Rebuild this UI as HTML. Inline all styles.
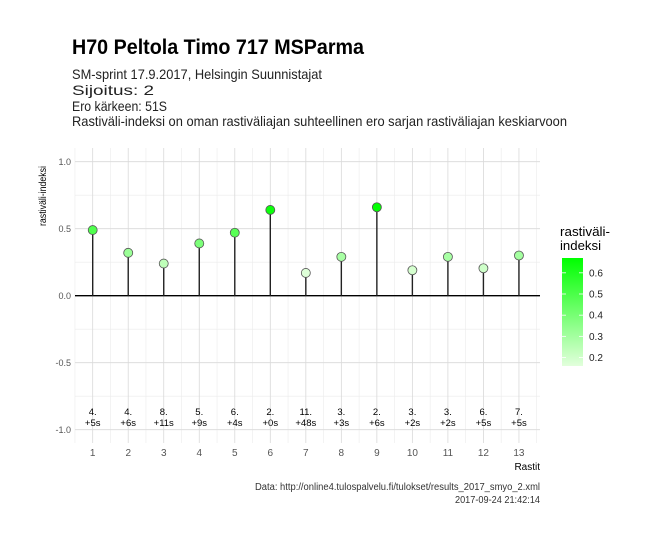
<!DOCTYPE html>
<html><head><meta charset="utf-8"><style>
body{margin:0;background:#fff;}
svg{display:block;font-family:"Liberation Sans Narrow","Liberation Sans",sans-serif;}
</style></head><body>
<svg id="chart" width="652" height="540" viewBox="0 0 652 540">
<rect width="652" height="540" fill="#fff"/>
<text x="72" y="54" font-size="21" font-weight="bold" fill="#000" textLength="292" lengthAdjust="spacingAndGlyphs">H70 Peltola Timo 717 MSParma</text>
<g font-size="14" fill="#222">
<text x="72" y="79" textLength="250" lengthAdjust="spacingAndGlyphs">SM-sprint 17.9.2017, Helsingin Suunnistajat</text>
<text x="72" y="95" textLength="82" lengthAdjust="spacingAndGlyphs">Sijoitus: 2</text>
<text x="72" y="111" textLength="95" lengthAdjust="spacingAndGlyphs">Ero kärkeen: 51S</text>
<text x="72" y="126" textLength="495" lengthAdjust="spacingAndGlyphs">Rastiväli-indeksi on oman rastiväliajan suhteellinen ero sarjan rastiväliajan keskiarvoon</text>
</g>
<g id="grid"></g>
<g id="marks"></g>
<g id="axes"></g>
<text x="46" y="196" font-size="10" fill="#000" transform="rotate(-90 46 196)" text-anchor="middle" textLength="60" lengthAdjust="spacingAndGlyphs">rastiväli-indeksi</text>
<text x="540" y="470" font-size="10" fill="#000" text-anchor="end">Rastit</text>
<g font-size="10" fill="#333">
<text x="255" y="490" textLength="285" lengthAdjust="spacingAndGlyphs">Data: http://online4.tulospalvelu.fi/tulokset/results_2017_smyo_2.xml</text>
<text x="455" y="503" textLength="85" lengthAdjust="spacingAndGlyphs">2017-09-24 21:42:14</text>
</g>
<defs><linearGradient id="lg" x1="0" y1="1" x2="0" y2="0">
<stop offset="0" stop-color="#e2ffdc"/><stop offset="1" stop-color="#00ff00"/></linearGradient></defs>
<g>
<text x="560" y="236" font-size="13" fill="#000" textLength="50" lengthAdjust="spacingAndGlyphs">rastiväli-</text>
<text x="560" y="250" font-size="13" fill="#000" textLength="41" lengthAdjust="spacingAndGlyphs">indeksi</text>
<rect x="562" y="258" width="21" height="108" fill="url(#lg)"/>
<g id="legticks"></g>
</g>
</svg>
<script>
const controls = [1,2,3,4,5,6,7,8,9,10,11,12,13];
const indexValues = [0.49,0.32,0.24,0.39,0.47,0.64,0.17,0.29,0.66,0.19,0.29,0.205,0.30];
const placeLabels = ["4.","4.","8.","5.","6.","2.","11.","3.","2.","3.","3.","6.","7."];
const diffLabels = ["+5s","+6s","+11s","+9s","+4s","+0s","+48s","+3s","+6s","+2s","+2s","+5s","+5s"];
const yTicks = [-1.0,-0.5,0.0,0.5,1.0];
const yTickLabels = ["-1.0","-0.5","0.0","0.5","1.0"];
const legendTicks = [0.2,0.3,0.4,0.5,0.6];

const NS="http://www.w3.org/2000/svg";
const L=75,R=540,T=148,B=443;
const x=v=>92.7+(v-1)*35.52;
const y=v=>295.7-v*134;
const lo=0.16,hi=0.67;
function el(t,a,p){const e=document.createElementNS(NS,t);for(const k in a)e.setAttribute(k,a[k]);p.appendChild(e);return e;}
function col(v){let t=Math.max(0,Math.min(1,(v-lo)/(hi-lo)));
 const c0=[226,255,220],c1=[0,255,0];
 return `rgb(${Math.round(c0[0]+(c1[0]-c0[0])*t)},255,${Math.round(c0[2]+(c1[2]-c0[2])*t)})`;}
const g=document.getElementById('grid'),m=document.getElementById('marks'),ax=document.getElementById('axes');
for(let i=0;i<yTicks.length-1;i++){const v=(yTicks[i]+yTicks[i+1])/2;
 const ln=el('line',{x1:L,x2:R,y1:y(v),y2:y(v),stroke:'#ebebeb','stroke-width':0.6},g);
 }
for(let i=0;i<controls.length+1;i++){const v=controls[0]-0.5+i;
 const ln=el('line',{x1:x(v),x2:x(v),y1:T,y2:B,stroke:'#ebebeb','stroke-width':0.6},g);
 }
yTicks.forEach((v,i)=>{
 const ln=el('line',{x1:L,x2:R,y1:y(v),y2:y(v),stroke:'#d9d9d9','stroke-width':0.8},g);
 
 const t=el('text',{x:L-4,y:y(v)+3.5,'font-size':9,fill:'#555','text-anchor':'end'},ax);t.textContent=yTickLabels[i];
 });
controls.forEach((c,i)=>{
 const ln=el('line',{x1:x(c),x2:x(c),y1:T,y2:B,stroke:'#d9d9d9','stroke-width':0.8},g);
 
 const t=el('text',{x:x(c),y:456,'font-size':10,fill:'#555','text-anchor':'middle'},ax);t.textContent=c;
 
 const p=el('text',{x:x(c),y:415,'font-size':9.5,fill:'#000','text-anchor':'middle'},ax);p.textContent=placeLabels[i];
 
 const d=el('text',{x:x(c),y:426,'font-size':9.5,fill:'#000','text-anchor':'middle'},ax);d.textContent=diffLabels[i];
 });
const zl=el('line',{x1:L,x2:R,y1:y(0),y2:y(0),stroke:'#000','stroke-width':1.3},m);

controls.forEach((c,i)=>{const v=indexValues[i];
 const s=el('line',{x1:x(c),x2:x(c),y1:y(0),y2:y(v),stroke:'#222','stroke-width':1.4},m);
 
 const pt=el('circle',{cx:x(c),cy:y(v),r:4.5,fill:col(v),stroke:'#555','stroke-width':0.8},m);
 });
const lt=document.getElementById('legticks');
const ly=v=>366-(v-lo)/(hi-lo)*108;
legendTicks.forEach(v=>{
 el('line',{x1:562,x2:566,y1:ly(v),y2:ly(v),stroke:'#fff','stroke-width':0.8},lt);
 el('line',{x1:579,x2:583,y1:ly(v),y2:ly(v),stroke:'#fff','stroke-width':0.8},lt);
 const t=el('text',{x:589,y:ly(v)+3.5,'font-size':10,fill:'#222'},lt);t.textContent=v.toFixed(1);
 });
</script>
</body></html>
